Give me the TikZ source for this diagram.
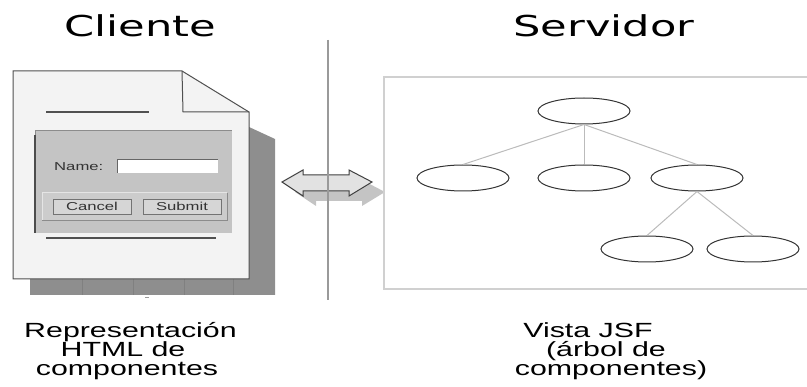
\documentclass[tikz,border=0pt]{standalone}
\usepackage{fontspec}
\setmainfont{Liberation Sans}
\newfontfamily\titlefont[FakeStretch=1.5]{DejaVu Sans}
\newfontfamily\capfont[FakeStretch=1.48]{Liberation Sans}
\newfontfamily\formfont[FakeStretch=1.45]{Liberation Sans}
\usetikzlibrary{shapes.geometric}
\definecolor{docfill}{HTML}{F3F3F3}
\definecolor{docline}{HTML}{505050}
\definecolor{shadowgray}{HTML}{8E8E8E}
\definecolor{panelgray}{HTML}{C4C4C4}
\definecolor{btngray}{HTML}{D6D6D6}
\definecolor{treeline}{HTML}{BBBBBB}
\definecolor{framegray}{HTML}{D0D0D0}
\definecolor{sepgray}{HTML}{9A9A9A}
\definecolor{arrowfill}{HTML}{E2E2E2}
\definecolor{arrowshadow}{HTML}{C4C4C4}
\tikzset{
  title/.style={font=\titlefont\fontsize{28.8}{34}\selectfont, anchor=base, inner sep=0pt},
  caption/.style={font=\capfont\fontsize{20.5}{19}\selectfont, anchor=base, inner sep=0pt},
  treenode/.style={ellipse, draw=black!80, line width=1pt, minimum width=92pt, minimum height=26pt, inner sep=0pt},
  treeedge/.style={draw=treeline, line width=1pt},
  formtext/.style={font=\formfont\fontsize{11.5}{13}\selectfont, text=black!80, inner sep=0pt},
  button/.style={draw=black!55, fill=btngray, line width=0.8pt, minimum width=78pt, minimum height=15pt, inner sep=0pt, font=\formfont\fontsize{11.5}{13}\selectfont, text=black!80}
}
\begin{document}
\begin{tikzpicture}[x=1pt,y=-1pt]
\useasboundingbox (0,0) rectangle (807,387);
% titles
\node[title] (cliente) at (140.5,37) {Cliente};
\node[title] (servidor) at (604,37) {Servidor};
% document shadow
\fill[shadowgray] (249,127) -- (275,139) -- (275,295) -- (30,295) -- (30,279) -- (249,279) -- cycle;
\foreach \xx in {82,133,184,233} \draw[black!50, line width=0.8pt] (\xx,279) -- (\xx,295);
\draw[black!40, line width=1pt] (145,298) -- (149,298);
% document
\draw[docline, fill=docfill, line width=1pt] (13,71) -- (182,71) -- (249,112) -- (249,279) -- (13,279) -- cycle;
\draw[docline, line width=1pt] (182,71) -- (183,112) -- (249,112);
\draw[docline, line width=1.2pt] (46,112) -- (149,112);
\draw[docline, line width=1.2pt] (46,238) -- (216,238);
% form panel
\fill[panelgray] (35,131) rectangle (232,233);
\draw[black!45, line width=1pt] (35,233) -- (35,131) -- (232,131);
\draw[black!70, line width=1.2pt] (35,135) -- (35,233);
\node[formtext, anchor=base west] (namelabel) at (54,171) {Name:};
\fill[white] (117,160) rectangle (218,173);
\draw[black!60, line width=1pt] (117,173) -- (117,160) -- (218,160);
\node[inner sep=0pt, minimum width=101pt, minimum height=13pt] (namebox) at (167.5,166.5) {};
% button group
\fill[black!20] (42,193) rectangle (227,221);
\draw[white!90!black, line width=1pt] (42,221) -- (42,193) -- (227,193);
\draw[black!45, line width=1pt] (42,221) -- (227,221) -- (227,193);
\node[button] (cancel) at (92,206.5) {Cancel};
\node[button] (submit) at (182,206.5) {Submit};
% double arrow shadow
\fill[arrowshadow] (295,192) -- (316,180) -- (316,185) -- (362,185) -- (362,180) -- (385,192) -- (362,206) -- (362,201) -- (316,201) -- (316,206) -- cycle;
% double arrow
\draw[black!75, fill=arrowfill, line width=1pt] (282,182) -- (303,170) -- (303,175) -- (349,175) -- (349,170) -- (372,182) -- (349,196) -- (349,191) -- (303,191) -- (303,196) -- cycle;
% separator
\draw[sepgray, line width=1.3pt] (328,40) -- (328,300);
% server frame (right edge runs off the picture)
\draw[framegray, line width=1.3pt] (812,77) -- (384,77) -- (384,289) -- (812,289);
% tree
\node[treenode] (root) at (584,111) {};
\node[treenode] (c1) at (463,178) {};
\node[treenode] (c2) at (584,178) {};
\node[treenode] (c3) at (697,178) {};
\node[treenode] (g1) at (647,249) {};
\node[treenode] (g2) at (753,249) {};
\draw[treeedge] (root.south) -- (c1.north);
\draw[treeedge] (root.south) -- (c2.north);
\draw[treeedge] (root.south) -- (c3.north);
\draw[treeedge] (c3.south) -- (g1.north);
\draw[treeedge] (c3.south) -- (g2.north);
% captions
\node[caption] (capl1) at (130.5,338) {Representación};
\node[caption] (capl2) at (123,357) {HTML de};
\node[caption] (capl3) at (127,376) {componentes};
\node[caption] (capr1) at (588,338) {Vista JSF};
\node[caption] (capr2) at (606,357) {(árbol de};
\node[caption] (capr3) at (611,376) {componentes)};
\end{tikzpicture}
\end{document}
